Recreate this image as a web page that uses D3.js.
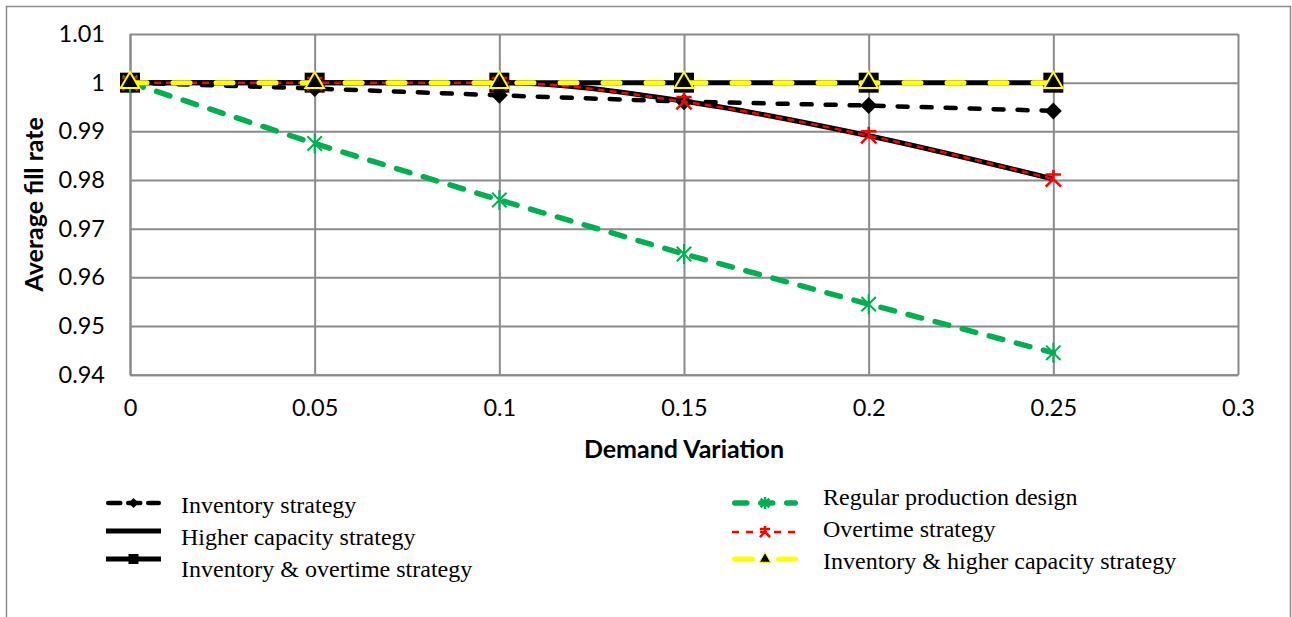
<!DOCTYPE html>
<html>
<head>
<meta charset="utf-8">
<script src="https://cdn.jsdelivr.net/npm/d3@7"></script>
<style>
  html, body { margin: 0; padding: 0; background: #fff; }
  svg { display: block; }
</style>
</head>
<body>
<svg id="chart" width="1292" height="617"></svg>
<script>
// Demand variation levels on the x axis
const demandVariation = [0, 0.05, 0.1, 0.15, 0.2, 0.25];

// Average fill rate for each strategy
const inventoryStrategy       = [1, 0.9988, 0.9974, 0.9961, 0.9953, 0.9942];
const higherCapacityStrategy  = [1, 1, 1, 0.9962, 0.9891, 0.9802];
const inventoryOvertime       = [1, 1, 1, 1, 1, 1];
const regularProduction       = [1, 0.9875, 0.9759, 0.9648, 0.9545, 0.9445];
const overtimeStrategy        = [1, 1, 1, 0.9961, 0.9891, 0.9802];
const inventoryHigherCapacity = [1, 1, 1, 1, 1, 1];

// Axis ticks and labels
const xTicks = [0, 0.05, 0.1, 0.15, 0.2, 0.25, 0.3];
const xTickLabels = ["0", "0.05", "0.1", "0.15", "0.2", "0.25", "0.3"];
const yTicks = [0.94, 0.95, 0.96, 0.97, 0.98, 0.99, 1, 1.01];
const yTickLabels = ["0.94", "0.95", "0.96", "0.97", "0.98", "0.99", "1", "1.01"];

const xTitle = "Demand Variation";
const yTitle = "Average fill rate";

const seriesNames = [
  "Inventory strategy",
  "Higher capacity strategy",
  "Inventory & overtime strategy",
  "Regular production design",
  "Overtime strategy",
  "Inventory & higher capacity strategy"
];

const svg = d3.select("#chart");
const W = 1292, H = 617;
const plot = { left: 130, right: 1238, top: 34, bottom: 374.7 };
const gridColor = "#8a8a8a";
const tickFont = "Lato, 'Open Sans', sans-serif";
const legendFont = "'Liberation Serif', 'Times New Roman', serif";

svg.append("rect").attr("width", W).attr("height", H).attr("fill", "#fff");
// chart frame
svg.append("rect")
  .attr("x", 6.5).attr("y", 6.5).attr("width", 1284).attr("height", 640)
  .attr("fill", "none").attr("stroke", gridColor).attr("stroke-width", 1.5);

const x = d3.scaleLinear().domain([0, 0.3]).range([plot.left, plot.right]);
const y = d3.scaleLinear().domain([0.94, 1.01]).range([plot.bottom, plot.top]);

// axes with full-length ticks acting as gridlines
const xAxis = d3.axisBottom(x)
  .tickValues(xTicks)
  .tickFormat((d, i) => xTickLabels[i])
  .tickSizeInner(-(plot.bottom - plot.top))
  .tickSizeOuter(0)
  .tickPadding(25);
const yAxis = d3.axisLeft(y)
  .tickValues(yTicks)
  .tickFormat((d, i) => yTickLabels[i])
  .tickSizeInner(-(plot.right - plot.left))
  .tickSizeOuter(0)
  .tickPadding(25);

function styleAxis(g) {
  g.select(".domain").attr("stroke", gridColor).attr("stroke-width", 2);
  g.selectAll(".tick line").attr("stroke", gridColor).attr("stroke-width", 2);
  g.selectAll(".tick text")
    .attr("fill", "#000")
    .style("font-family", tickFont)
    .style("font-size", "23.5px");
}

svg.append("g").attr("transform", `translate(0,${plot.bottom})`).call(xAxis).call(styleAxis);
svg.append("g").attr("transform", `translate(${plot.left},0)`).call(yAxis).call(styleAxis);

// axis titles
svg.append("text")
  .attr("x", 684).attr("y", 448)
  .attr("text-anchor", "middle").attr("dominant-baseline", "central")
  .style("font-family", tickFont).style("font-weight", "bold").style("font-size", "25px")
  .text(xTitle);
svg.append("text")
  .attr("transform", `translate(33,${(plot.top + plot.bottom) / 2}) rotate(-90)`)
  .attr("text-anchor", "middle").attr("dominant-baseline", "central")
  .style("font-family", tickFont).style("font-weight", "bold").style("font-size", "25px")
  .text(yTitle);

// marker shapes
function diamondPath(r) { return `M0,${-r}L${r},0L0,${r}L${-r},0Z`; }
function asteriskPath(r) {
  const d = r * 0.72;
  return `M${-d},${-d}L${d},${d}M${d},${-d}L${-d},${d}M0,${-r}L0,${r}`;
}
function starPath(r) {
  const d = r * 0.85;
  return `M0,0L0,${-r}M0,0L${-d},${d}M0,0L${d},${d}M${-d},${-d * 0.6}L${d},${-d * 0.6}`;
}
const squarePath = s => d3.symbol(d3.symbolSquare, s)();
const trianglePath = s => d3.symbol(d3.symbolTriangle, s)();

const series = [
  { name: seriesNames[0], values: inventoryStrategy, color: "#000", width: 4.5, dash: "10 14", cap: "round",
    curve: d3.curveLinear,
    marker: { path: diamondPath(8.5), fill: "#000", stroke: "none", sw: 0 },
    legendMarker: { path: diamondPath(5), fill: "#000", stroke: "none", sw: 0 } },
  { name: seriesNames[1], values: higherCapacityStrategy, color: "#000", width: 5, dash: null, cap: "butt",
    curve: d3.curveMonotoneX, marker: null, legendMarker: null },
  { name: seriesNames[2], values: inventoryOvertime, color: "#000", width: 5, dash: null, cap: "butt",
    curve: d3.curveLinear,
    marker: { path: squarePath(400), fill: "#000", stroke: "none", sw: 0 },
    legendMarker: { path: squarePath(100), fill: "#000", stroke: "none", sw: 0 } },
  { name: seriesNames[3], values: regularProduction, color: "#00b050", width: 5.5, dash: "14 14", cap: "round",
    curve: d3.curveLinear,
    marker: { path: asteriskPath(10), fill: "none", stroke: "#00b050", sw: 2 },
    legendMarker: { path: asteriskPath(6), fill: "none", stroke: "#00b050", sw: 2.5 } },
  { name: seriesNames[4], values: overtimeStrategy, color: "#ff0000", width: 2.5, dash: "7 5", cap: "butt",
    curve: d3.curveMonotoneX,
    marker: { path: starPath(9), fill: "none", stroke: "#ff0000", sw: 2.5 },
    legendMarker: { path: starPath(6), fill: "none", stroke: "#ff0000", sw: 2.5 } },
  { name: seriesNames[5], values: inventoryHigherCapacity, color: "#ffff00", width: 5, dash: "17 26", cap: "round",
    curve: d3.curveLinear,
    marker: { path: trianglePath(150), fill: "#000", stroke: "#ffff00", sw: 2 },
    legendMarker: { path: trianglePath(55), fill: "#000", stroke: "#ffff00", sw: 1 } }
];

const plotG = svg.append("g");
series.forEach(s => {
  const pts = demandVariation.map((d, i) => [d, s.values[i]]);
  const line = d3.line().x(d => x(d[0])).y(d => y(d[1])).curve(s.curve);
  plotG.append("path")
    .attr("d", line(pts))
    .attr("fill", "none")
    .attr("stroke", s.color)
    .attr("stroke-width", s.width)
    .attr("stroke-linecap", s.cap)
    .attr("stroke-linejoin", "round")
    .attr("stroke-dasharray", s.dash);
  if (s.marker) {
    plotG.selectAll(null).data(pts).join("path")
      .attr("transform", d => `translate(${x(d[0])},${y(d[1])})`)
      .attr("d", s.marker.path)
      .attr("fill", s.marker.fill)
      .attr("stroke", s.marker.stroke)
      .attr("stroke-width", s.marker.sw);
  }
});

// legend: two columns of three entries
const legendPos = [
  { x0: 106, x1: 161, ly: 503, tx: 181, ty: 505 },
  { x0: 106, x1: 161, ly: 531, tx: 181, ty: 537 },
  { x0: 106, x1: 161, ly: 559, tx: 181, ty: 569 },
  { x0: 732, x1: 798, ly: 503, tx: 823, ty: 497 },
  { x0: 732, x1: 798, ly: 532, tx: 823, ty: 529 },
  { x0: 732, x1: 798, ly: 559, tx: 823, ty: 561 }
];
const legendDash = ["12 8", null, null, "12 14", "7 7", "18 26"];
const legendG = svg.append("g");
series.forEach((s, i) => {
  const p = legendPos[i];
  const cap = s.cap === "round" ? "round" : "butt";
  const pad = cap === "round" ? s.width / 2 : 0;
  legendG.append("line")
    .attr("x1", p.x0 + pad).attr("x2", p.x1 - pad)
    .attr("y1", p.ly).attr("y2", p.ly)
    .attr("stroke", s.color)
    .attr("stroke-width", s.width)
    .attr("stroke-linecap", cap)
    .attr("stroke-dasharray", legendDash[i]);
  if (s.legendMarker) {
    legendG.append("path")
      .attr("transform", `translate(${(p.x0 + p.x1) / 2},${p.ly})`)
      .attr("d", s.legendMarker.path)
      .attr("fill", s.legendMarker.fill)
      .attr("stroke", s.legendMarker.stroke)
      .attr("stroke-width", s.legendMarker.sw);
  }
  legendG.append("text")
    .attr("x", p.tx).attr("y", p.ty)
    .attr("dominant-baseline", "central")
    .style("font-family", legendFont)
    .style("font-size", "24px")
    .attr("fill", "#000")
    .text(s.name);
});
</script>
</body>
</html>
